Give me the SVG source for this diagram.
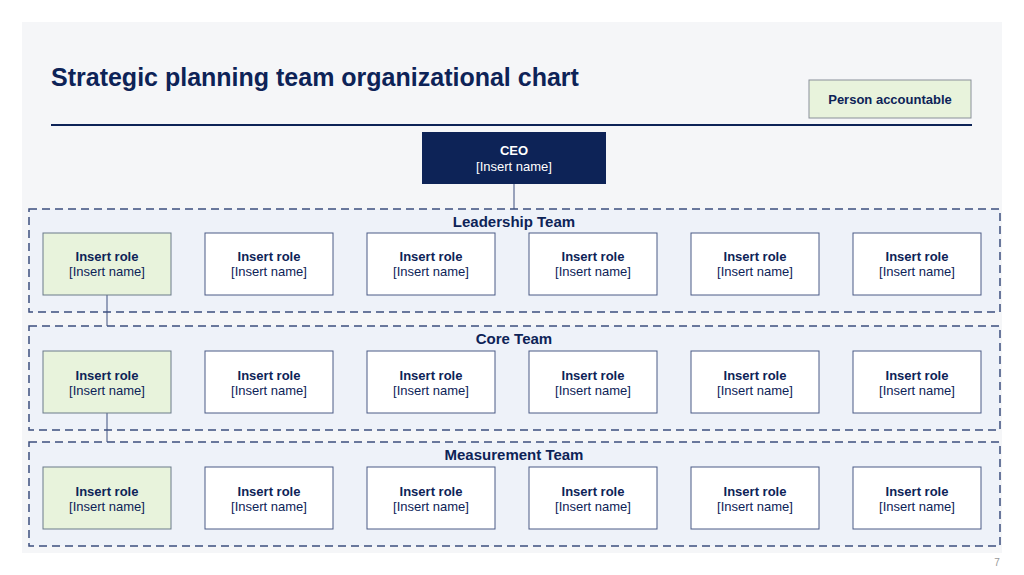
<svg xmlns="http://www.w3.org/2000/svg" width="1024" height="575" viewBox="0 0 1024 575">
<style>
text{font-family:"Liberation Sans",Arial,sans-serif;fill:#0d2357;text-anchor:middle}
.b{font-weight:bold;font-size:13px}
.n{font-size:13px}
.box{fill:#fff;stroke:#4a5a86;stroke-width:1}
.g{fill:#e8f3dc;stroke:#6a7a8a;stroke-width:1}
.team{fill:#eef2f9;stroke:#3d4f7e;stroke-width:1.5;stroke-dasharray:8,5}
.t{font-weight:bold;font-size:15px}
.c{stroke:#3d4f7e;stroke-width:1;fill:none}
</style>
<rect width="1024" height="575" fill="#fff"/>
<rect x="22" y="22" width="980" height="531" fill="#f5f6f8"/>
<text x="51" y="86" style="font-size:25px;font-weight:bold;text-anchor:start">Strategic planning team organizational chart</text>
<line x1="51" y1="125" x2="972" y2="125" stroke="#0d2357" stroke-width="2"/>
<g id="legend"><rect x="809" y="80" width="162" height="38" fill="#e8f3dc" stroke="#8a9099"/><text x="890" y="104" class="b">Person accountable</text></g>
<text x="997" y="566" style="font-size:10px;fill:#999">7</text>
<g id="teams">
<rect class="team" x="29" y="209" width="971" height="103"/>
<rect class="team" x="29" y="326" width="971" height="104"/>
<rect class="team" x="29" y="442" width="971" height="104"/>
<text x="514" y="227" class="t">Leadership Team</text>
<text x="514" y="344" class="t">Core Team</text>
<text x="514" y="460" class="t">Measurement Team</text>
</g>
<g id="connectors">
<line class="c" x1="514" y1="184" x2="514" y2="209"/>
<line class="c" x1="107" y1="295" x2="107" y2="326"/>
<line class="c" x1="107" y1="413" x2="107" y2="442"/>
</g>
<g id="ceo"><rect x="422" y="132" width="184" height="52" fill="#0d2357"/><text x="514" y="155" class="b" style="fill:#fff">CEO</text><text x="514" y="171" class="n" style="fill:#fff">[Insert name]</text></g>
<g id="l1"><rect class="g" x="43" y="233" width="128" height="62"/><text x="107" y="261" class="b">Insert role</text><text x="107" y="276" class="n">[Insert name]</text></g>
<g id="l2"><rect class="box" x="205" y="233" width="128" height="62"/><text x="269" y="261" class="b">Insert role</text><text x="269" y="276" class="n">[Insert name]</text></g>
<g id="l3"><rect class="box" x="367" y="233" width="128" height="62"/><text x="431" y="261" class="b">Insert role</text><text x="431" y="276" class="n">[Insert name]</text></g>
<g id="l4"><rect class="box" x="529" y="233" width="128" height="62"/><text x="593" y="261" class="b">Insert role</text><text x="593" y="276" class="n">[Insert name]</text></g>
<g id="l5"><rect class="box" x="691" y="233" width="128" height="62"/><text x="755" y="261" class="b">Insert role</text><text x="755" y="276" class="n">[Insert name]</text></g>
<g id="l6"><rect class="box" x="853" y="233" width="128" height="62"/><text x="917" y="261" class="b">Insert role</text><text x="917" y="276" class="n">[Insert name]</text></g>
<g id="c1"><rect class="g" x="43" y="351" width="128" height="62"/><text x="107" y="380" class="b">Insert role</text><text x="107" y="395" class="n">[Insert name]</text></g>
<g id="c2"><rect class="box" x="205" y="351" width="128" height="62"/><text x="269" y="380" class="b">Insert role</text><text x="269" y="395" class="n">[Insert name]</text></g>
<g id="c3"><rect class="box" x="367" y="351" width="128" height="62"/><text x="431" y="380" class="b">Insert role</text><text x="431" y="395" class="n">[Insert name]</text></g>
<g id="c4"><rect class="box" x="529" y="351" width="128" height="62"/><text x="593" y="380" class="b">Insert role</text><text x="593" y="395" class="n">[Insert name]</text></g>
<g id="c5"><rect class="box" x="691" y="351" width="128" height="62"/><text x="755" y="380" class="b">Insert role</text><text x="755" y="395" class="n">[Insert name]</text></g>
<g id="c6"><rect class="box" x="853" y="351" width="128" height="62"/><text x="917" y="380" class="b">Insert role</text><text x="917" y="395" class="n">[Insert name]</text></g>
<g id="m1"><rect class="g" x="43" y="467" width="128" height="62"/><text x="107" y="496" class="b">Insert role</text><text x="107" y="511" class="n">[Insert name]</text></g>
<g id="m2"><rect class="box" x="205" y="467" width="128" height="62"/><text x="269" y="496" class="b">Insert role</text><text x="269" y="511" class="n">[Insert name]</text></g>
<g id="m3"><rect class="box" x="367" y="467" width="128" height="62"/><text x="431" y="496" class="b">Insert role</text><text x="431" y="511" class="n">[Insert name]</text></g>
<g id="m4"><rect class="box" x="529" y="467" width="128" height="62"/><text x="593" y="496" class="b">Insert role</text><text x="593" y="511" class="n">[Insert name]</text></g>
<g id="m5"><rect class="box" x="691" y="467" width="128" height="62"/><text x="755" y="496" class="b">Insert role</text><text x="755" y="511" class="n">[Insert name]</text></g>
<g id="m6"><rect class="box" x="853" y="467" width="128" height="62"/><text x="917" y="496" class="b">Insert role</text><text x="917" y="511" class="n">[Insert name]</text></g>
</svg>
